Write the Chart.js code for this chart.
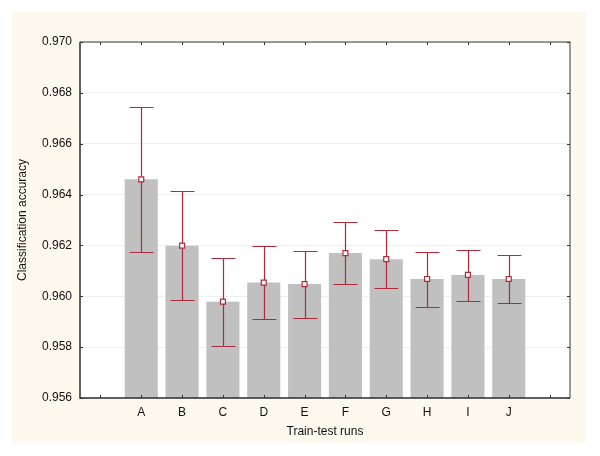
<!DOCTYPE html>
<html>
<head>
<meta charset="utf-8">
<script src="https://cdn.jsdelivr.net/npm/chart.js@4"></script>
<style>
  html, body { margin: 0; padding: 0; background: #ffffff; }
  #wrap { width: 600px; height: 456px; position: relative; }
</style>
</head>
<body>
<div id="wrap"><canvas id="chart"></canvas></div>
<script>
// Train-test runs (blank slots at both ends, as in the original)
const runs = ['', 'A', 'B', 'C', 'D', 'E', 'F', 'G', 'H', 'I', 'J', ''];
const meanAcc = [null, 0.96460, 0.96199, 0.95979, 0.96054, 0.96048, 0.96170, 0.96146, 0.96068, 0.96084, 0.96068, null];
const upperAcc = [null, 0.96746, 0.96413, 0.96151, 0.96198, 0.96179, 0.96292, 0.96262, 0.96175, 0.96183, 0.96164, null];
const lowerAcc = [null, 0.96173, 0.95987, 0.95806, 0.95911, 0.95916, 0.96047, 0.96031, 0.95959, 0.95983, 0.95975, null];
const yTicks = [0.956, 0.958, 0.960, 0.962, 0.964, 0.966, 0.968, 0.970];

const errColor = '#ad2b3a';
const fontFamily = '"Liberation Sans", Arial, sans-serif';

// Cream panel behind everything
const panelPlugin = {
    id: 'panel',
    beforeDraw(chart) {
        const ctx = chart.ctx;
        const area = chart.chartArea;
        ctx.save();
        ctx.fillStyle = '#fdf9ee';
        ctx.fillRect(12, 12, 574, 431);
        ctx.fillStyle = '#ffffff';
        ctx.fillRect(area.left, area.top, area.right - area.left, area.bottom - area.top);
        ctx.restore();
    }
};

// Error bars drawn just before the mean markers
const errorBarPlugin = {
    id: 'errorBars',
    beforeDatasetDraw(chart, args) {
        if (args.index !== 1) return;
        const ctx = chart.ctx;
        const x = chart.scales.x;
        const y = chart.scales.y;
        ctx.save();
        ctx.strokeStyle = errColor;
        ctx.lineWidth = 1.2;
        for (let i = 0; i < runs.length; i++) {
            if (upperAcc[i] == null) continue;
            const px = Math.round(x.getPixelForValue(i)) + 0.5;
            const yt = Math.round(y.getPixelForValue(upperAcc[i])) + 0.5;
            const yb = Math.round(y.getPixelForValue(lowerAcc[i])) + 0.5;
            ctx.beginPath();
            ctx.moveTo(px, yt);
            ctx.lineTo(px, yb);
            ctx.moveTo(px - 12, yt);
            ctx.lineTo(px + 12, yt);
            ctx.moveTo(px - 12, yb);
            ctx.lineTo(px + 12, yb);
            ctx.stroke();
        }
        ctx.restore();
    }
};

// Frame with inward ticks on all four sides
const framePlugin = {
    id: 'frame',
    afterDraw(chart) {
        const ctx = chart.ctx;
        const a = chart.chartArea;
        const x = chart.scales.x;
        const y = chart.scales.y;
        ctx.save();
        ctx.lineWidth = 1.5;
        ctx.strokeStyle = '#7a7a7a';
        ctx.beginPath();
        ctx.moveTo(a.left, a.top);
        ctx.lineTo(a.right, a.top);
        ctx.lineTo(a.right, a.bottom);
        ctx.stroke();
        ctx.strokeStyle = '#2e2e2e';
        ctx.beginPath();
        ctx.moveTo(a.left, a.top);
        ctx.lineTo(a.left, a.bottom);
        ctx.lineTo(a.right, a.bottom);
        ctx.stroke();
        ctx.lineWidth = 1;
        ctx.strokeStyle = '#333333';
        ctx.beginPath();
        for (let i = 0; i < runs.length; i++) {
            const px = Math.round(x.getPixelForValue(i)) + 0.5;
            ctx.moveTo(px, a.bottom);
            ctx.lineTo(px, a.bottom - 3);
            ctx.moveTo(px, a.top);
            ctx.lineTo(px, a.top + 3);
        }
        yTicks.forEach(v => {
            const py = Math.round(y.getPixelForValue(v)) + 0.5;
            ctx.moveTo(a.left, py);
            ctx.lineTo(a.left + 3, py);
            ctx.moveTo(a.right, py);
            ctx.lineTo(a.right - 3, py);
        });
        ctx.stroke();
        ctx.restore();
    }
};

const ctx = document.getElementById('chart').getContext('2d');
const chart = new Chart(ctx, {
    type: 'bar',
    data: {
        labels: runs,
        datasets: [{
            data: meanAcc,
            backgroundColor: '#c0c0c0',
            borderWidth: 0,
            barPercentage: 0.81,
            categoryPercentage: 1.0,
            order: 2
        }, {
            type: 'line',
            data: meanAcc,
            showLine: false,
            pointStyle: 'rect',
            pointRadius: 3.5,
            pointBackgroundColor: '#ffffff',
            pointBorderColor: errColor,
            pointBorderWidth: 1.2,
            order: 1
        }]
    },
    options: {
        responsive: true,
        maintainAspectRatio: false,
        animation: false,
        layout: {
            padding: { left: 12, top: 42, right: 30, bottom: 0 }
        },
        plugins: {
            legend: { display: false },
            tooltip: { enabled: false }
        },
        scales: {
            x: {
                afterFit: (scale) => { scale.height = 58; },
                grid: { display: false, drawTicks: false },
                border: { display: false },
                ticks: {
                    color: '#111111',
                    font: { family: fontFamily, size: 12 },
                    padding: 7,
                    autoSkip: false,
                    maxRotation: 0
                },
                title: {
                    display: true,
                    text: 'Train-test runs',
                    color: '#111111',
                    font: { family: fontFamily, size: 12 },
                    padding: { top: 0, bottom: 17 }
                }
            },
            y: {
                min: 0.956,
                max: 0.970,
                afterFit: (scale) => { scale.width = 68; },
                afterBuildTicks: (scale) => {
                    scale.ticks = yTicks.map(v => ({ value: v }));
                },
                grid: { color: '#eeeeee', lineWidth: 1, drawTicks: false },
                border: { display: false },
                ticks: {
                    color: '#111111',
                    font: { family: fontFamily, size: 12 },
                    padding: 8,
                    callback: (v) => Number(v).toFixed(3)
                },
                title: {
                    display: true,
                    text: 'Classification accuracy',
                    color: '#111111',
                    font: { family: fontFamily, size: 12 },
                    padding: { top: 3, bottom: 0 }
                }
            }
        }
    },
    plugins: [panelPlugin, errorBarPlugin, framePlugin]
});
</script>
</body>
</html>
